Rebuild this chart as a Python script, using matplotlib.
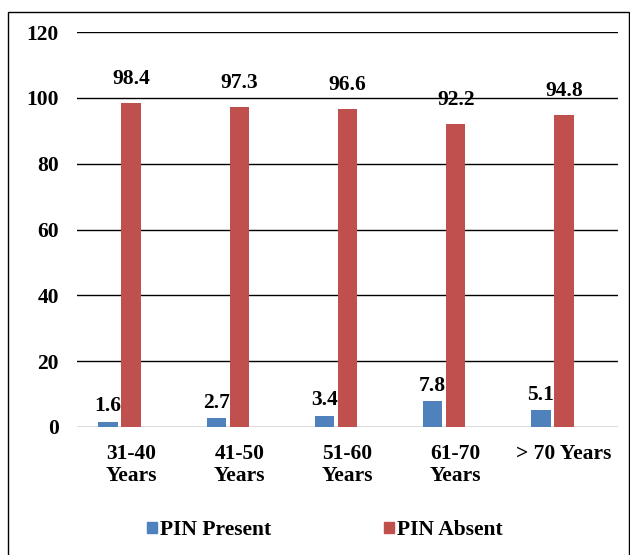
import numpy as np
import matplotlib
matplotlib.use("Agg")
import matplotlib.pyplot as plt
from matplotlib.patches import Rectangle

plt.rcParams['font.family'] = ['Liberation Serif', 'DejaVu Serif']
plt.rcParams['font.weight'] = 'bold'

age_groups = ["31-40\nYears", "41-50\nYears", "51-60\nYears", "61-70\nYears", "> 70 Years"]
pin_present = [1.6, 2.7, 3.4, 7.8, 5.1]
pin_absent = [98.4, 97.3, 96.6, 92.2, 94.8]
y_ticks = [0, 20, 40, 60, 80, 100, 120]

blue = "#4F81BD"
red = "#C0504D"
size = 15.5

fig = plt.figure(figsize=(6.3, 5.55), dpi=100)
ax = fig.add_axes([77/630, 1 - 427/555, (618 - 77)/630, (427 - 32)/555])

x = np.arange(len(age_groups))
w = 0.18
b1 = ax.bar(x - 0.213, pin_present, width=w, color=blue, zorder=3)
b2 = ax.bar(x, pin_absent, width=w, color=red, zorder=3)

for rect, v in zip(b1, pin_present):
    ax.annotate(f"{v}", (rect.get_x() + rect.get_width()/2, v), xytext=(0, 4),
                textcoords="offset points", ha="center", va="bottom", fontsize=size, fontweight="bold")
for rect, v in zip(b2, pin_absent):
    ax.annotate(f"{v}", (rect.get_x() + rect.get_width()/2, v), xytext=(0, 10),
                textcoords="offset points", ha="center", va="bottom", fontsize=size, fontweight="bold")

ax.set_xlim(-0.5, 4.5)
ax.set_ylim(0, 120)
ax.set_yticks(y_ticks)
ax.set_xticks(x)
ax.set_xticklabels(age_groups, fontsize=size, fontweight="bold", linespacing=1.15)
ax.tick_params(axis="y", length=0, pad=13, labelsize=size)
ax.tick_params(axis="x", length=0, pad=12)
for t in ax.get_yticklabels():
    t.set_fontweight("bold")

for yv in y_ticks[1:]:
    ax.axhline(yv, color="black", lw=1.0, zorder=1)
ax.axhline(0, color="#d9d9d9", lw=2, zorder=2)
for s in ax.spines.values():
    s.set_visible(False)

h1 = Rectangle((0, 0), 1, 1, color=blue)
h2 = Rectangle((0, 0), 1, 1, color=red)
fig.legend([h1, h2], ["PIN Present", "PIN Absent"], loc="center",
           bbox_to_anchor=(0.5 + 10/630, 1 - 530/555),
           ncol=2, frameon=False, prop={"size": size, "weight": "bold"},
           handlelength=0.45, handleheight=0.45, handletextpad=0.15, columnspacing=5.25)

border = Rectangle((8/630, 1 - 560/555), (629 - 8)/630, (560 - 12)/555, transform=fig.transFigure,
                   fill=False, edgecolor="black", lw=1.0)
fig.patches.append(border)

fig.savefig("out.png", dpi=100)
